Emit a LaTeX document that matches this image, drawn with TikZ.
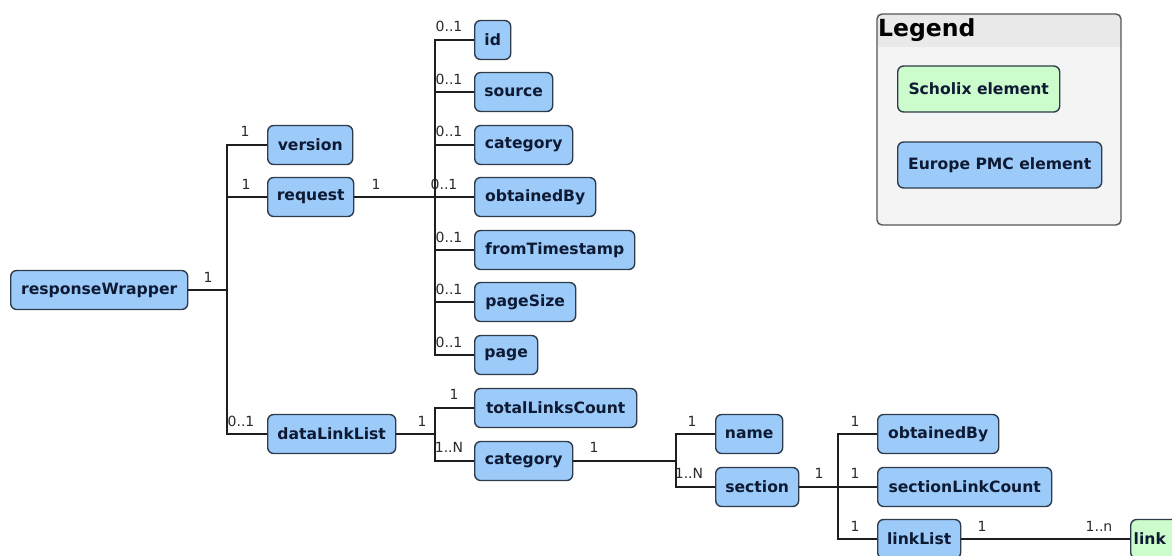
\documentclass[tikz,border=0pt]{standalone}
\usepackage{fontspec}
\setmainfont{DejaVu Sans}
\definecolor{pmcblue}{HTML}{9CCBFA}
\definecolor{scholixgreen}{HTML}{CCFCCC}
\definecolor{boxborder}{HTML}{2E3B4A}
\definecolor{boxtext}{HTML}{0E1A33}
\definecolor{labelcol}{HTML}{2A2A2A}
\definecolor{linecol}{HTML}{1E1E1E}
\definecolor{legendbg}{HTML}{F4F4F4}
\definecolor{headerbg}{HTML}{E9E9E9}
\definecolor{legendborder}{HTML}{555555}
\begin{document}
\begin{tikzpicture}[x=1pt,y=-1pt,
  box/.style={draw=boxborder, fill=pmcblue, rounded corners=6pt, line width=1.4pt,
    minimum height=39pt, inner sep=0pt, anchor=west, text=boxtext,
    font=\fontsize{15.6}{18}\selectfont\bfseries},
  greenbox/.style={box, fill=scholixgreen},
  lbl/.style={font=\fontsize{14}{16}\selectfont, text=labelcol, inner sep=0pt},
  conn/.style={draw=linecol, line width=1.3pt}]
\useasboundingbox (0,0) rectangle (1172,555);
\fill[white] (0,0) rectangle (1172,555);

% ---------- legend ----------
\begin{scope}
  \clip[rounded corners=5pt] (877,14) rectangle (1121,225);
  \fill[legendbg] (877,14) rectangle (1121,225);
  \fill[headerbg] (877,14) rectangle (1121,47);
\end{scope}
\draw[legendborder, line width=1.4pt, rounded corners=5pt] (877,14) rectangle (1121,225);
\node[anchor=west, inner sep=0pt, text=black, font=\fontsize{23.5}{26}\selectfont\bfseries] (legendtitle) at (878,30) {Legend};
\node[greenbox, minimum width=162pt, minimum height=46pt] (lscholix) at (897,89) {Scholix element};
\node[box, minimum width=204pt, minimum height=46pt] (lpmc) at (897,165) {Europe PMC element};

% ---------- nodes ----------
\node[box, minimum width=177pt] (rw) at (10,290) {responseWrapper};
\node[box, minimum width=85pt] (version) at (267,145) {version};
\node[box, minimum width=86pt] (request) at (267,197) {request};
\node[box, minimum width=128pt] (dll) at (267,434) {dataLinkList};

\node[box, minimum width=36pt] (id) at (474,40) {id};
\node[box, minimum width=78pt] (source) at (474,92) {source};
\node[box, minimum width=98pt] (cat1) at (474,145) {category};
\node[box, minimum width=121pt] (ob1) at (474,197) {obtainedBy};
\node[box, minimum width=160pt] (fts) at (474,250) {fromTimestamp};
\node[box, minimum width=101pt] (psize) at (474,302) {pageSize};
\node[box, minimum width=63pt] (page) at (474,355) {page};

\node[box, minimum width=162pt] (tlc) at (474,408) {totalLinksCount};
\node[box, minimum width=98pt] (cat2) at (474,461) {category};

\node[box, minimum width=67pt] (name) at (715,434) {name};
\node[box, minimum width=83pt] (section) at (715,487) {section};

\node[box, minimum width=121pt] (ob2) at (877,434) {obtainedBy};
\node[box, minimum width=174pt] (slc) at (877,487) {sectionLinkCount};
\node[box, minimum width=83pt] (linklist) at (877,539) {linkList};

\node[greenbox, text width=72pt, align=left, inner xsep=3pt] (link) at (1130,539) {link};

% ---------- junctions ----------
\coordinate (j1) at (227,290);
\coordinate (j2) at (435,197);
\coordinate (j3) at (435,434);
\coordinate (j4) at (676,461);
\coordinate (j5) at (838,487);

% ---------- connectors ----------
\draw[conn] (rw.east) -- (j1);
\draw[conn] (j1) |- (version.west);
\draw[conn] (j1) |- (request.west);
\draw[conn] (j1) |- (dll.west);

\draw[conn] (request.east) -- (ob1.west);
\draw[conn] (j2) |- (id.west);
\draw[conn] (j2) |- (source.west);
\draw[conn] (j2) |- (cat1.west);
\draw[conn] (j2) |- (fts.west);
\draw[conn] (j2) |- (psize.west);
\draw[conn] (j2) |- (page.west);

\draw[conn] (dll.east) -- (j3);
\draw[conn] (j3) |- (tlc.west);
\draw[conn] (j3) |- (cat2.west);

\draw[conn] (cat2.east) -- (j4);
\draw[conn] (j4) |- (name.west);
\draw[conn] (j4) |- (section.west);

\draw[conn] (section.east) -- (slc.west);
\draw[conn] (j5) |- (ob2.west);
\draw[conn] (j5) |- (linklist.west);

\draw[conn] (linklist.east) -- (link.west);

% ---------- multiplicity labels ----------
\node[lbl] (m1) at (208,277) {1};
\node[lbl] (m2) at (245,131) {1};
\node[lbl] (m3) at (246,184) {1};
\node[lbl] (m4) at (241,421) {0..1};
\node[lbl] (m5) at (376,184) {1};

\node[lbl] (m6) at (449,26) {0..1};
\node[lbl] (m7) at (449,79) {0..1};
\node[lbl] (m8) at (449,131) {0..1};
\node[lbl] (m9) at (444,184) {0..1};
\node[lbl] (m10) at (449,237) {0..1};
\node[lbl] (m11) at (449,289) {0..1};
\node[lbl] (m12) at (449,342) {0..1};

\node[lbl] (m13) at (422,421) {1};
\node[lbl] (m14) at (454,394) {1};
\node[lbl] (m15) at (449,447) {1..N};
\node[lbl] (m16) at (594,447) {1};

\node[lbl] (m17) at (692,421) {1};
\node[lbl] (m18) at (689,473) {1..N};
\node[lbl] (m19) at (819,473) {1};

\node[lbl] (m20) at (855,421) {1};
\node[lbl] (m21) at (855,473) {1};
\node[lbl] (m22) at (855,526) {1};
\node[lbl] (m23) at (982,526) {1};
\node[lbl] (m24) at (1099,526) {1..n};
\end{tikzpicture}
\end{document}
